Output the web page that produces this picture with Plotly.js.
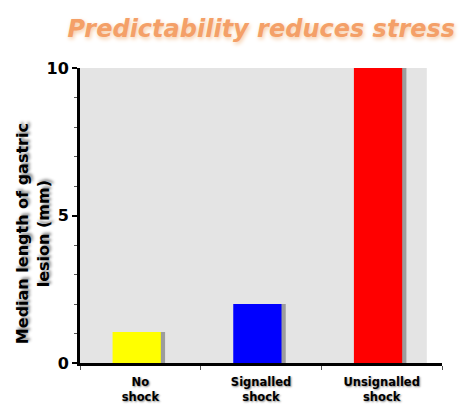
<!DOCTYPE html>
<html>
<head>
<meta charset="utf-8">
<script src="https://cdn.plot.ly/plotly-3.0.1.min.js"></script>
<style>html,body{margin:0;padding:0;background:#fff;}#chart{width:462px;height:409px;}</style>
</head>
<body>
<div id="chart"></div>
<script>
var categories = ["No<br>shock", "Signalled<br>shock", "Unsignalled<br>shock"];
var lesionValues = [1.05, 2.0, 10.1];
var barColors = ["#ffff00", "#0000ff", "#ff0000"];
var yTickValues = [0, 5, 10];
var yTickLabels = ["0", "5", "10"];
var yTitle = "Median length of gastric<br>lesion (mm)";

var shadow = {
  x: categories, y: lesionValues, type: "bar", width: 0.4, offset: -0.195,
  marker: {color: "rgba(50,50,50,0.4)"}, hoverinfo: "skip", showlegend: false, cliponaxis: false
};
var bars = {
  x: categories, y: lesionValues, type: "bar", width: 0.4, offset: -0.23,
  marker: {color: barColors}, showlegend: false, cliponaxis: false
};
var layout = {
  width: 462, height: 409,
  margin: {l: 80, r: 20, t: 68, b: 46},
  paper_bgcolor: "#ffffff", plot_bgcolor: "rgba(0,0,0,0)",
  barmode: "overlay",
  title: {
    text: "Predictability reduces stress",
    font: {family: "DejaVu Sans", size: 24, color: "#f4a068", weight: "bold", style: "italic", shadow: "1px 2px 4px #f5c8a0"},
    xref: "container", x: 0.985, xanchor: "right", yref: "container", y: 0.93, yanchor: "middle"
  },
  shapes: [{type: "rect", xref: "paper", yref: "paper", x0: 0, x1: 0.958, y0: 0, y1: 1, fillcolor: "#e4e4e4", line: {width: 0}, layer: "below"}],
  annotations: [{
    text: yTitle, textangle: -90, xref: "paper", yref: "paper", x: -0.13, y: 0.44,
    xanchor: "center", yanchor: "middle", showarrow: false,
    font: {family: "DejaVu Sans", size: 16, color: "#000", weight: "bold", shadow: "2px 2px 3px #888"}
  }],
  xaxis: {
    type: "category", range: [-0.5, 2.5], showgrid: false, zeroline: false,
    showline: true, linecolor: "#000", linewidth: 3,
    ticks: "outside", tickson: "boundaries", ticklen: 4, tickcolor: "#555", tickwidth: 1,
    ticklabelstandoff: 6,
    tickfont: {family: "DejaVu Sans", size: 11.5, color: "#000", weight: "bold", shadow: "1px 1px 2px #888"}
  },
  yaxis: {
    range: [0, 10], showgrid: false, zeroline: false,
    showline: true, linecolor: "#000", linewidth: 3,
    tickvals: yTickValues, ticktext: yTickLabels,
    ticks: "outside", ticklen: 5, tickcolor: "#000", tickwidth: 2,
    minor: {dtick: 1, ticks: "outside", ticklen: 3, tickcolor: "#555", tickwidth: 1},
    tickfont: {family: "DejaVu Sans", size: 16, color: "#000", weight: "bold"}
  }
};
Plotly.newPlot("chart", [shadow, bars], layout, {displayModeBar: false, staticPlot: true});
</script>
</body>
</html>
